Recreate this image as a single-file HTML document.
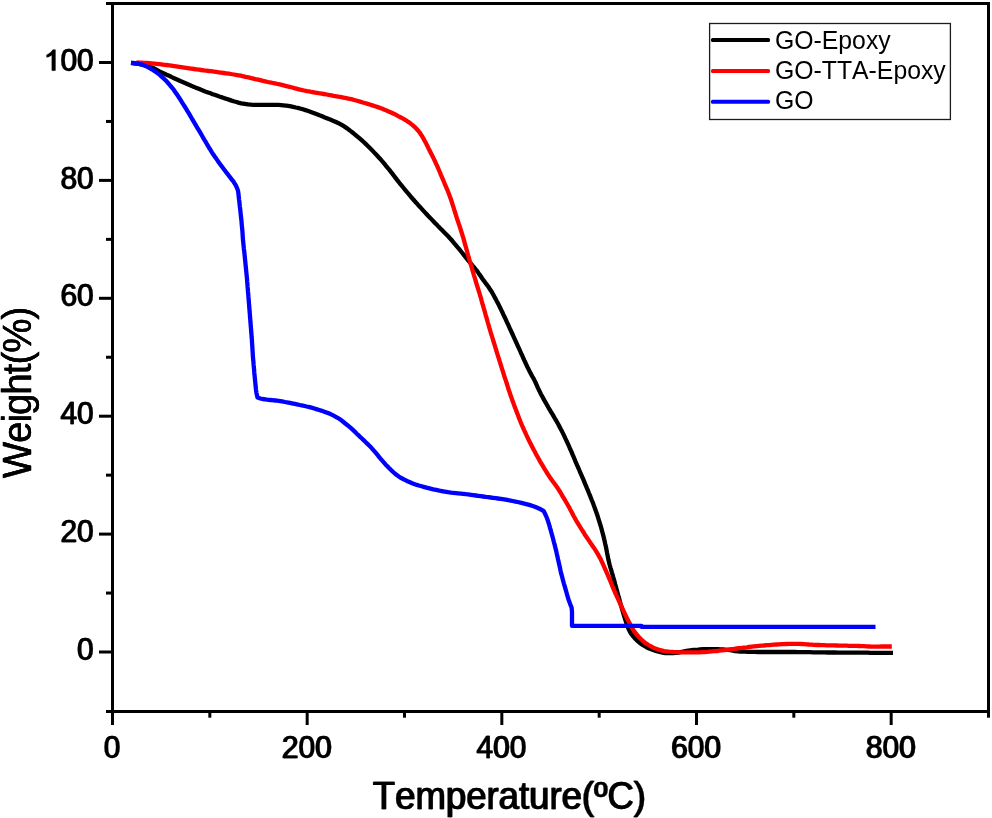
<!DOCTYPE html>
<html><head><meta charset="utf-8"><title>TGA</title>
<style>
html,body{margin:0;padding:0;background:#fff;}
body{width:992px;height:818px;overflow:hidden;}
svg{display:block;font-family:"Liberation Sans",sans-serif;}
text{fill:#000;font-kerning:none;}
</style></head>
<body>
<svg width="992" height="818" viewBox="0 0 992 818">
<defs><filter id="g" x="-10" y="-10" width="1012" height="838" filterUnits="userSpaceOnUse" color-interpolation-filters="sRGB"><feGaussianBlur stdDeviation="0.45"/></filter></defs>
<rect width="992" height="818" fill="#fff"/>
<g filter="url(#g)">
<rect x="-5" y="-5" width="1002" height="828" fill="#fff"/>
<g fill="#000">
<rect x="111" y="2" width="879" height="3"/>
<rect x="111" y="710" width="879" height="3"/>
<rect x="111" y="2" width="3" height="711"/>
<rect x="987" y="2" width="3" height="711"/>
<rect x="99" y="650.50" width="13" height="3"/>
<rect x="99" y="532.60" width="13" height="3"/>
<rect x="99" y="414.70" width="13" height="3"/>
<rect x="99" y="296.80" width="13" height="3"/>
<rect x="99" y="178.90" width="13" height="3"/>
<rect x="99" y="61.00" width="13" height="3"/>
<rect x="106" y="710.00" width="6" height="3"/>
<rect x="106" y="591.55" width="6" height="3"/>
<rect x="106" y="473.65" width="6" height="3"/>
<rect x="106" y="355.75" width="6" height="3"/>
<rect x="106" y="237.85" width="6" height="3"/>
<rect x="106" y="119.95" width="6" height="3"/>
<rect x="106" y="2.00" width="6" height="3"/>
<rect x="111.00" y="712" width="3" height="13"/>
<rect x="305.67" y="712" width="3" height="13"/>
<rect x="500.33" y="712" width="3" height="13"/>
<rect x="695.00" y="712" width="3" height="13"/>
<rect x="889.67" y="712" width="3" height="13"/>
<rect x="208.33" y="712" width="3" height="5.7"/>
<rect x="403.00" y="712" width="3" height="5.7"/>
<rect x="597.67" y="712" width="3" height="5.7"/>
<rect x="792.33" y="712" width="3" height="5.7"/>
<rect x="987.00" y="712" width="3" height="5.7"/>
</g>
<g fill="none" stroke-width="4.3" stroke-linejoin="round">
<path d="M131.0,62.9 L134.0,63.3 L136.0,63.5 L138.9,64.0 L140.9,64.3 L143.8,64.9 L145.8,65.4 L148.6,66.2 L150.5,66.9 L153.3,68.0 L155.1,68.9 L157.7,70.3 L159.5,71.3 L162.1,72.6 L163.9,73.5 L166.6,74.8 L168.5,75.6 L171.2,76.8 L173.0,77.7 L175.8,78.9 L177.6,79.7 L180.3,81.0 L182.1,81.8 L184.9,83.0 L186.7,83.8 L189.5,85.0 L191.3,85.8 L194.1,86.9 L195.9,87.7 L198.7,88.8 L200.6,89.6 L203.4,90.7 L205.2,91.4 L208.0,92.4 L209.9,93.1 L212.7,94.2 L214.6,94.8 L217.4,95.8 L219.3,96.5 L222.2,97.4 L224.1,98.1 L226.9,99.0 L228.8,99.6 L231.7,100.6 L233.6,101.2 L236.5,102.0 L238.4,102.6 L241.3,103.3 L243.3,103.6 L246.2,104.1 L248.2,104.4 L251.2,104.7 L253.2,104.8 L256.2,104.9 L258.2,104.9 L261.2,104.9 L263.2,104.9 L266.2,104.9 L268.2,104.9 L271.2,104.8 L273.2,104.8 L276.2,104.8 L278.2,104.9 L281.2,105.1 L283.1,105.3 L286.1,105.6 L288.1,105.9 L291.0,106.4 L293.0,106.8 L295.9,107.5 L297.9,107.9 L300.8,108.7 L302.7,109.2 L305.6,110.1 L307.5,110.7 L310.3,111.7 L312.2,112.4 L315.0,113.5 L316.9,114.2 L319.6,115.3 L321.5,116.0 L324.3,117.2 L326.1,117.9 L328.9,119.1 L330.8,119.8 L333.5,120.9 L335.4,121.7 L338.1,123.0 L339.9,123.9 L342.5,125.4 L344.2,126.4 L346.7,128.1 L348.3,129.2 L350.7,131.1 L352.2,132.3 L354.5,134.2 L356.1,135.5 L358.4,137.4 L359.9,138.7 L362.2,140.7 L363.7,142.0 L365.9,144.1 L367.3,145.5 L369.4,147.6 L370.8,149.0 L372.9,151.1 L374.3,152.6 L376.4,154.8 L377.7,156.2 L379.8,158.4 L381.7,160.7 L383.0,162.2 L385.0,164.5 L386.2,166.1 L388.1,168.4 L389.4,169.9 L391.3,172.3 L392.5,173.9 L394.3,176.3 L395.5,177.9 L397.3,180.2 L398.6,181.8 L400.4,184.2 L401.7,185.7 L403.6,188.0 L404.9,189.6 L406.8,191.9 L408.1,193.4 L410.0,195.7 L411.3,197.3 L413.3,199.5 L414.6,201.0 L416.6,203.2 L417.9,204.7 L420.0,206.9 L421.3,208.4 L423.3,210.6 L424.7,212.1 L426.7,214.3 L428.1,215.8 L430.2,217.9 L431.6,219.4 L433.6,221.5 L435.0,223.0 L437.1,225.1 L438.5,226.6 L440.6,228.7 L442.0,230.1 L444.1,232.2 L445.6,233.7 L447.7,235.8 L449.0,237.2 L451.1,239.5 L452.4,241.0 L454.3,243.3 L455.6,244.8 L457.5,247.1 L458.8,248.6 L460.7,251.0 L461.9,252.5 L463.8,254.9 L465.0,256.5 L466.9,258.8 L468.1,260.4 L470.1,262.7 L471.4,264.2 L473.3,266.5 L474.6,268.0 L476.5,270.3 L477.7,271.9 L479.4,274.4 L480.6,276.0 L482.2,278.5 L483.4,280.1 L485.2,282.6 L486.4,284.1 L488.2,286.5 L489.3,288.2 L491.0,290.7 L492.0,292.4 L493.5,295.0 L494.4,296.7 L495.9,299.4 L496.8,301.2 L498.2,303.8 L499.1,305.6 L500.4,308.3 L501.3,310.1 L502.6,312.8 L503.4,314.6 L504.7,317.3 L505.6,319.1 L506.8,321.9 L507.7,323.7 L508.9,326.4 L509.7,328.2 L511.0,330.9 L511.8,332.8 L513.1,335.5 L513.9,337.3 L515.1,340.0 L516.0,341.9 L517.2,344.6 L518.0,346.4 L519.3,349.2 L520.1,351.0 L521.3,353.7 L522.2,355.5 L523.4,358.3 L524.2,360.1 L525.5,362.8 L526.3,364.6 L527.6,367.4 L528.5,369.1 L529.8,371.8 L530.8,373.6 L532.2,376.2 L533.7,378.8 L534.6,380.6 L535.9,383.3 L536.7,385.1 L537.9,387.9 L538.8,389.7 L540.1,392.4 L541.0,394.2 L542.4,396.8 L543.4,398.6 L544.8,401.2 L545.8,402.9 L547.3,405.5 L548.3,407.3 L549.8,409.8 L550.8,411.6 L552.4,414.2 L553.4,415.9 L554.9,418.5 L555.9,420.2 L557.4,422.8 L558.4,424.5 L559.8,427.2 L560.7,429.0 L562.1,431.6 L563.0,433.4 L564.3,436.1 L565.1,437.9 L566.4,440.6 L567.3,442.5 L568.5,445.2 L569.3,447.0 L570.5,449.8 L571.4,451.6 L572.5,454.4 L573.3,456.2 L574.5,459.0 L575.2,460.8 L576.4,463.6 L577.2,465.4 L578.4,468.2 L579.2,470.0 L580.4,472.8 L581.2,474.6 L582.4,477.3 L583.2,479.2 L584.3,481.9 L585.1,483.8 L586.3,486.6 L587.0,488.4 L588.2,491.2 L588.9,493.0 L590.1,495.8 L590.8,497.7 L591.9,500.5 L592.7,502.3 L593.7,505.1 L594.4,507.0 L595.4,509.8 L596.1,511.7 L597.1,514.5 L597.7,516.4 L598.6,519.3 L599.2,521.2 L600.1,524.1 L600.7,526.0 L601.5,528.9 L602.0,530.8 L602.8,533.7 L603.3,535.6 L604.0,538.6 L604.5,540.5 L605.1,543.4 L605.6,545.4 L606.2,548.3 L606.6,550.3 L607.1,553.2 L607.5,555.2 L608.1,558.1 L608.5,560.1 L609.2,563.0 L609.7,565.0 L610.5,567.8 L611.1,569.7 L611.9,572.6 L612.5,574.5 L613.3,577.4 L613.9,579.3 L614.7,582.2 L615.2,584.2 L616.0,587.1 L616.5,589.0 L617.3,591.9 L617.8,593.8 L618.6,596.7 L619.2,598.6 L619.9,601.5 L620.5,603.5 L621.3,606.4 L621.8,608.3 L622.7,611.2 L623.2,613.1 L624.1,615.9 L624.7,617.9 L625.6,620.7 L626.2,622.6 L627.2,625.5 L627.9,627.3 L629.1,630.1 L630.5,632.7 L631.6,634.3 L633.4,636.7 L634.7,638.2 L636.8,640.3 L638.3,641.6 L640.6,643.5 L642.3,644.7 L644.8,646.2 L646.5,647.2 L649.2,648.5 L651.1,649.2 L653.9,650.2 L655.8,650.9 L658.7,651.7 L660.6,652.2 L663.5,652.8 L665.5,653.0 L668.5,653.2 L670.5,653.2 L673.5,653.1 L675.4,652.9 L678.4,652.5 L680.4,652.2 L683.3,651.6 L685.3,651.2 L688.2,650.6 L690.2,650.3 L693.2,650.0 L695.2,649.8 L698.1,649.6 L700.1,649.4 L703.1,649.2 L705.1,649.2 L708.1,649.1 L710.1,649.1 L713.1,649.1 L715.1,649.1 L718.1,649.2 L720.1,649.3 L723.1,649.4 L725.1,649.6 L728.1,649.9 L730.1,650.2 L733.0,650.7 L735.0,651.0 L738.0,651.3 L740.0,651.5 L743.0,651.7 L745.0,651.7 L748.0,651.8 L750.0,651.8 L753.0,651.9 L755.0,651.9 L758.0,652.0 L760.0,652.0 L763.0,652.0 L765.0,652.0 L768.0,652.0 L770.0,652.0 L773.0,652.0 L775.0,652.0 L778.0,652.0 L780.0,652.0 L783.0,652.0 L785.0,652.0 L788.0,652.0 L790.0,652.0 L793.0,652.0 L795.0,652.0 L798.0,652.1 L800.0,652.1 L803.0,652.1 L805.0,652.2 L808.0,652.2 L810.0,652.2 L813.0,652.3 L815.0,652.3 L818.0,652.3 L820.0,652.4 L823.0,652.4 L825.0,652.4 L828.0,652.5 L830.0,652.5 L833.0,652.5 L835.0,652.5 L838.0,652.6 L840.0,652.6 L843.0,652.6 L845.0,652.6 L848.0,652.6 L850.0,652.6 L853.0,652.6 L855.0,652.7 L858.0,652.7 L860.0,652.7 L863.0,652.7 L865.0,652.7 L868.0,652.7 L870.0,652.8 L873.0,652.8 L875.0,652.8 L878.0,652.8 L880.0,652.8 L883.0,652.8 L885.0,652.8 L888.0,652.9 L890.0,652.9 L893.0,652.9" stroke="#000"/>
<path d="M136.5,62.5 L139.5,62.6 L141.5,62.7 L144.5,62.9 L146.5,63.0 L149.5,63.2 L151.5,63.4 L154.5,63.7 L156.5,63.9 L159.4,64.2 L161.4,64.4 L164.4,64.8 L166.4,65.0 L169.4,65.4 L171.4,65.7 L174.3,66.1 L176.3,66.4 L179.3,66.8 L181.3,67.1 L184.2,67.6 L186.2,67.9 L189.2,68.3 L191.2,68.6 L194.1,69.0 L196.1,69.3 L199.1,69.7 L201.1,70.0 L204.1,70.4 L206.0,70.6 L209.0,71.0 L211.0,71.2 L214.0,71.6 L216.0,71.9 L218.9,72.3 L220.9,72.6 L223.9,73.0 L225.9,73.3 L228.9,73.7 L230.8,74.0 L233.8,74.5 L235.8,74.8 L238.7,75.3 L240.7,75.7 L243.6,76.3 L245.6,76.8 L248.5,77.4 L250.4,77.9 L253.4,78.6 L255.3,79.1 L258.2,79.7 L260.2,80.2 L263.1,80.9 L265.1,81.3 L268.0,82.0 L270.0,82.4 L272.9,83.0 L274.9,83.4 L277.8,84.0 L279.8,84.4 L282.7,85.1 L284.6,85.6 L287.5,86.3 L289.5,86.8 L292.4,87.5 L294.3,88.1 L297.2,88.9 L299.1,89.4 L302.1,90.1 L304.0,90.5 L307.0,91.1 L308.9,91.4 L311.9,92.0 L313.9,92.3 L316.8,92.8 L318.8,93.2 L321.7,93.7 L323.7,94.0 L326.7,94.5 L328.6,94.9 L331.6,95.4 L333.6,95.8 L336.5,96.3 L338.5,96.7 L341.4,97.2 L343.4,97.6 L346.4,98.2 L348.3,98.6 L351.2,99.2 L353.2,99.7 L356.1,100.5 L358.0,101.0 L360.9,101.9 L362.8,102.5 L365.7,103.3 L367.6,103.9 L370.5,104.8 L372.4,105.4 L375.2,106.3 L377.1,106.9 L380.0,107.9 L381.8,108.6 L384.6,109.8 L386.5,110.5 L389.2,111.7 L391.1,112.5 L393.8,113.8 L395.6,114.7 L398.2,116.1 L400.0,117.0 L402.6,118.4 L404.4,119.4 L406.9,121.0 L408.6,122.1 L411.0,123.8 L412.6,125.1 L414.8,127.1 L416.2,128.5 L418.2,130.7 L419.5,132.3 L421.1,134.7 L422.2,136.4 L423.7,139.0 L424.6,140.8 L426.1,143.4 L427.0,145.2 L428.3,147.9 L429.2,149.7 L430.6,152.4 L431.4,154.1 L432.8,156.8 L433.7,158.6 L435.0,161.3 L435.8,163.1 L437.1,165.9 L437.9,167.7 L439.1,170.5 L439.9,172.3 L441.0,175.1 L441.8,176.9 L443.0,179.7 L443.8,181.5 L444.9,184.3 L445.7,186.1 L446.9,188.9 L447.7,190.7 L448.8,193.5 L449.5,195.4 L450.5,198.2 L451.2,200.1 L452.1,203.0 L452.7,204.9 L453.6,207.7 L454.2,209.6 L455.1,212.5 L455.7,214.4 L456.6,217.3 L457.2,219.2 L458.2,222.0 L458.8,223.9 L459.8,226.8 L460.4,228.7 L461.3,231.5 L461.9,233.4 L462.8,236.3 L463.4,238.2 L464.2,241.1 L464.7,243.0 L465.5,245.9 L466.1,247.9 L466.9,250.8 L467.4,252.7 L468.2,255.6 L468.8,257.5 L469.6,260.4 L470.2,262.3 L471.0,265.2 L471.6,267.1 L472.4,270.0 L473.0,271.9 L473.8,274.8 L474.4,276.7 L475.3,279.6 L475.8,281.5 L476.7,284.4 L477.3,286.3 L478.2,289.2 L478.8,291.1 L479.7,293.9 L480.2,295.9 L481.1,298.7 L481.6,300.7 L482.4,303.6 L483.0,305.5 L483.8,308.4 L484.4,310.3 L485.2,313.2 L485.7,315.1 L486.6,318.0 L487.1,319.9 L487.9,322.8 L488.5,324.7 L489.3,327.6 L489.9,329.5 L490.7,332.4 L491.3,334.3 L492.2,337.2 L492.8,339.1 L493.7,342.0 L494.3,343.9 L495.2,346.8 L495.7,348.7 L496.6,351.5 L497.2,353.5 L498.1,356.3 L498.7,358.2 L499.6,361.1 L500.2,363.0 L501.1,365.9 L501.7,367.8 L502.6,370.6 L503.2,372.5 L504.1,375.4 L505.0,378.3 L505.7,380.2 L506.6,383.0 L507.2,384.9 L508.1,387.8 L508.7,389.7 L509.7,392.6 L510.3,394.5 L511.3,397.3 L512.0,399.2 L513.0,402.0 L513.7,403.9 L514.7,406.7 L515.4,408.6 L516.5,411.4 L517.2,413.2 L518.3,416.0 L519.0,417.9 L520.1,420.7 L520.8,422.6 L522.0,425.3 L522.8,427.2 L524.0,429.9 L524.9,431.7 L526.1,434.4 L527.0,436.3 L528.3,439.0 L529.1,440.8 L530.5,443.5 L531.4,445.2 L532.7,447.9 L533.7,449.7 L535.1,452.3 L536.0,454.1 L537.5,456.7 L538.5,458.5 L539.9,461.1 L540.9,462.8 L542.5,465.4 L543.5,467.1 L545.0,469.7 L546.1,471.4 L547.7,474.0 L548.8,475.6 L550.4,478.1 L551.6,479.8 L553.4,482.2 L554.6,483.8 L556.4,486.2 L557.5,487.8 L559.1,490.3 L560.2,492.0 L561.7,494.6 L562.7,496.4 L564.2,498.9 L565.3,500.7 L566.8,503.3 L567.8,505.0 L569.3,507.6 L570.2,509.4 L571.6,512.0 L572.5,513.8 L573.9,516.5 L574.9,518.2 L576.3,520.8 L577.4,522.5 L579.0,525.1 L580.0,526.8 L581.6,529.3 L582.7,531.0 L584.3,533.6 L585.3,535.3 L587.0,537.8 L588.1,539.4 L589.8,541.9 L590.9,543.6 L592.6,546.0 L593.8,547.7 L595.4,550.2 L596.5,551.9 L598.0,554.4 L599.0,556.2 L600.5,558.8 L601.3,560.6 L602.6,563.3 L603.4,565.2 L604.6,567.9 L605.4,569.7 L606.7,572.5 L607.5,574.3 L608.7,577.1 L609.4,578.9 L610.6,581.7 L611.3,583.5 L612.4,586.3 L613.2,588.2 L614.4,590.9 L615.2,592.8 L616.4,595.5 L617.3,597.3 L618.5,600.0 L619.3,601.9 L620.6,604.6 L621.4,606.4 L622.7,609.2 L623.5,611.0 L624.8,613.7 L625.6,615.5 L627.0,618.2 L627.9,620.0 L629.2,622.6 L630.2,624.4 L631.6,627.0 L632.6,628.8 L634.2,631.3 L635.4,632.9 L637.3,635.2 L638.6,636.7 L640.7,638.8 L642.2,640.2 L644.4,642.2 L646.0,643.4 L648.5,645.0 L650.2,646.0 L652.9,647.4 L654.7,648.2 L657.5,649.2 L659.4,649.9 L662.3,650.6 L664.2,651.1 L667.2,651.5 L669.2,651.7 L672.2,651.9 L674.2,652.1 L677.2,652.2 L679.2,652.3 L682.2,652.4 L684.2,652.4 L687.2,652.4 L689.2,652.4 L692.2,652.4 L694.2,652.4 L697.2,652.4 L699.2,652.3 L702.2,652.2 L704.2,652.1 L707.2,651.9 L709.1,651.7 L712.1,651.4 L714.1,651.2 L717.1,651.0 L719.1,650.7 L722.1,650.4 L724.1,650.2 L727.1,649.8 L729.0,649.5 L732.0,649.1 L734.0,648.9 L737.0,648.5 L739.0,648.2 L741.9,647.9 L743.9,647.6 L746.9,647.3 L748.9,647.0 L751.9,646.6 L753.9,646.4 L756.9,646.1 L758.8,645.9 L761.8,645.6 L763.8,645.5 L766.8,645.2 L768.8,645.1 L771.8,644.8 L773.8,644.7 L776.8,644.5 L778.8,644.4 L781.8,644.2 L783.8,644.1 L786.8,644.0 L788.8,643.9 L791.8,643.8 L793.8,643.8 L796.8,643.8 L798.8,643.8 L801.8,644.0 L803.8,644.1 L806.8,644.3 L808.8,644.5 L811.8,644.7 L813.8,644.8 L816.8,645.0 L818.8,645.0 L821.8,645.1 L823.8,645.2 L826.8,645.3 L828.8,645.3 L831.8,645.4 L833.8,645.4 L836.8,645.5 L838.8,645.6 L841.8,645.6 L843.8,645.7 L846.8,645.7 L848.8,645.8 L851.8,645.8 L853.8,645.9 L856.8,645.9 L858.8,646.0 L861.8,646.1 L863.8,646.2 L866.8,646.4 L868.8,646.5 L871.8,646.6 L873.8,646.6 L876.8,646.6 L878.8,646.6 L881.8,646.5 L883.8,646.5 L886.8,646.5 L888.8,646.5 L891.8,646.5" stroke="#f00"/>
<path d="M131.0,62.9 L133.0,63.0 L136.0,63.3 L138.0,63.6 L140.9,64.3 L142.8,64.9 L145.6,66.0 L147.4,66.9 L150.1,68.3 L151.8,69.3 L154.3,70.9 L156.0,72.1 L158.4,73.9 L160.0,75.1 L162.2,77.1 L163.7,78.5 L165.8,80.6 L167.2,82.0 L169.2,84.3 L170.5,85.8 L172.4,88.2 L173.7,89.7 L175.4,92.2 L176.5,93.8 L178.2,96.3 L179.3,98.0 L181.0,100.6 L182.0,102.3 L183.6,104.8 L184.7,106.5 L186.3,109.1 L187.3,110.8 L188.9,113.4 L189.9,115.1 L191.4,117.7 L192.4,119.5 L194.0,122.1 L195.0,123.8 L196.5,126.4 L197.5,128.1 L199.1,130.7 L200.1,132.4 L201.6,135.0 L202.6,136.8 L204.1,139.4 L205.2,141.1 L206.7,143.7 L207.7,145.4 L209.2,148.0 L210.3,149.7 L211.9,152.3 L213.0,154.0 L214.7,156.5 L215.9,158.1 L217.6,160.6 L218.7,162.2 L220.5,164.7 L221.7,166.3 L223.5,168.7 L224.7,170.3 L226.5,172.7 L227.8,174.3 L229.6,176.7 L230.9,178.3 L232.7,180.6 L233.9,182.3 L235.5,184.8 L236.4,186.6 L237.5,189.3 L238.1,191.2 L238.5,194.2 L238.7,196.2 L239.0,199.2 L239.3,201.2 L239.6,204.2 L239.8,206.2 L240.2,209.2 L240.4,211.1 L240.7,214.1 L240.9,216.1 L241.3,219.1 L241.5,221.1 L241.7,224.1 L241.9,226.1 L242.2,229.1 L242.4,231.1 L242.6,234.1 L242.7,236.1 L242.9,239.1 L243.1,241.1 L243.4,244.0 L243.7,247.0 L243.9,249.0 L244.3,252.0 L244.5,254.0 L244.8,257.0 L245.0,259.0 L245.3,262.0 L245.5,264.0 L245.8,266.9 L246.0,268.9 L246.3,271.9 L246.5,273.9 L246.8,276.9 L247.0,278.9 L247.2,281.9 L247.4,283.9 L247.6,286.9 L247.8,288.9 L248.0,291.9 L248.3,294.9 L248.4,296.9 L248.7,299.9 L248.8,301.8 L249.1,304.8 L249.2,306.8 L249.5,309.8 L249.6,311.8 L249.9,314.8 L250.0,316.8 L250.3,319.8 L250.4,321.8 L250.7,324.8 L250.8,326.8 L251.1,329.8 L251.2,331.8 L251.5,334.8 L251.6,336.8 L251.9,339.8 L252.0,341.8 L252.2,344.8 L252.4,347.8 L252.5,349.8 L252.7,352.8 L252.8,354.8 L253.0,357.8 L253.2,359.8 L253.5,362.7 L253.6,364.7 L253.9,367.7 L254.1,369.7 L254.3,372.7 L254.5,374.7 L254.8,377.7 L255.0,379.7 L255.3,382.7 L255.5,384.7 L255.8,387.7 L256.0,389.7 L256.4,392.6 L256.8,394.6 L257.5,397.5 L260.3,398.5 L262.3,399.0 L265.2,399.4 L267.2,399.7 L270.2,400.0 L272.2,400.2 L275.2,400.5 L277.2,400.7 L280.1,401.1 L282.1,401.4 L285.1,402.0 L287.0,402.3 L290.0,402.9 L291.9,403.3 L294.9,403.9 L296.9,404.3 L299.8,405.0 L301.7,405.4 L304.7,406.0 L306.6,406.5 L309.6,407.2 L311.5,407.7 L314.4,408.5 L316.3,409.1 L319.2,410.0 L321.1,410.6 L323.9,411.6 L325.8,412.2 L328.6,413.3 L330.5,414.1 L333.2,415.4 L334.9,416.3 L337.6,417.8 L339.2,418.8 L341.7,420.6 L343.2,421.8 L345.6,423.7 L347.2,425.0 L349.5,426.9 L351.0,428.2 L353.2,430.2 L354.7,431.6 L356.8,433.7 L358.3,435.1 L360.4,437.2 L361.9,438.5 L364.1,440.6 L365.5,442.0 L367.7,444.1 L369.1,445.5 L371.2,447.6 L372.5,449.1 L374.5,451.4 L375.8,452.9 L377.7,455.2 L379.0,456.8 L380.9,459.1 L382.2,460.6 L384.2,462.9 L385.5,464.4 L387.6,466.5 L389.0,468.0 L391.1,470.1 L392.6,471.5 L394.8,473.5 L396.4,474.7 L398.8,476.5 L400.5,477.6 L403.1,479.0 L404.9,479.9 L407.6,481.2 L409.4,482.0 L412.2,483.2 L414.1,483.9 L416.9,484.9 L418.8,485.5 L421.7,486.3 L423.6,486.8 L426.5,487.6 L428.5,488.1 L431.4,488.8 L433.3,489.3 L436.3,489.9 L438.2,490.3 L441.2,491.0 L443.2,491.3 L446.1,491.8 L448.1,492.2 L451.1,492.6 L453.1,492.8 L456.0,493.1 L458.0,493.3 L461.0,493.6 L463.0,493.8 L466.0,494.2 L468.0,494.4 L471.0,494.8 L473.0,495.1 L475.9,495.5 L477.9,495.8 L480.9,496.2 L482.9,496.5 L485.9,496.9 L487.9,497.1 L490.8,497.5 L492.8,497.8 L495.8,498.2 L497.8,498.5 L500.8,498.9 L502.7,499.2 L505.7,499.7 L507.7,500.0 L510.6,500.6 L512.6,501.0 L515.5,501.6 L517.5,502.0 L520.4,502.6 L522.4,503.1 L525.3,503.8 L527.2,504.3 L530.1,505.1 L532.0,505.7 L534.9,506.7 L536.7,507.5 L539.5,508.7 L541.2,509.7 L543.8,511.2 L544.7,513.0 L546.0,515.8 L547.1,518.5 L547.8,520.4 L548.4,522.3 L549.3,525.2 L550.1,528.1 L550.7,530.0 L551.2,532.0 L552.0,534.9 L552.8,537.8 L553.3,539.7 L553.8,541.7 L554.6,544.6 L555.3,547.5 L555.8,549.4 L556.3,551.4 L556.9,554.3 L557.6,557.3 L558.0,559.2 L558.5,561.2 L559.1,564.1 L559.8,567.1 L560.2,569.0 L560.6,571.0 L561.3,573.9 L562.1,576.8 L562.6,578.8 L563.1,580.7 L563.9,583.6 L564.8,586.5 L565.3,588.5 L565.9,590.4 L566.7,593.3 L567.5,596.2 L568.1,598.1 L568.7,600.0 L569.7,602.8 L570.8,605.6 L571.6,607.5 L572.0,612.0 L572.0,625.9 L641.5,625.9 L641.5,626.9 L875.5,626.9" stroke="#00f"/>
</g>

<rect x="709.6" y="23.5" width="240.8" height="96.0" fill="#fff" stroke="#1c1c1c" stroke-width="1.3"/>
<rect x="711" y="38" width="59" height="4" rx="1.5" fill="#000"/>
<rect x="711" y="68.9" width="59" height="4" rx="1.5" fill="#f00"/>
<rect x="711" y="99.7" width="59" height="4" rx="1.5" fill="#00f"/>
<g font-size="24.8">
<text transform="translate(775.0,48.8) scale(1,1.03)">GO-Epoxy</text>
<text transform="translate(775.0,79.0) scale(1,1.03)">GO-TTA-Epoxy</text>
<text transform="translate(775.0,109.2) scale(1,1.03)">GO</text>
</g>
<g>
<text transform="translate(93.15,660.10) scale(1,1.06)" font-size="29.9" text-anchor="end" stroke="#000" stroke-width="0.25">0</text>
<text transform="translate(94.25,660.10) scale(1,1.06)" font-size="29.9" text-anchor="end" stroke="#000" stroke-width="0.25">0</text>
<text transform="translate(93.15,542.20) scale(1,1.06)" font-size="29.9" text-anchor="end" stroke="#000" stroke-width="0.25">20</text>
<text transform="translate(94.25,542.20) scale(1,1.06)" font-size="29.9" text-anchor="end" stroke="#000" stroke-width="0.25">20</text>
<text transform="translate(93.15,424.30) scale(1,1.06)" font-size="29.9" text-anchor="end" stroke="#000" stroke-width="0.25">40</text>
<text transform="translate(94.25,424.30) scale(1,1.06)" font-size="29.9" text-anchor="end" stroke="#000" stroke-width="0.25">40</text>
<text transform="translate(93.15,306.40) scale(1,1.06)" font-size="29.9" text-anchor="end" stroke="#000" stroke-width="0.25">60</text>
<text transform="translate(94.25,306.40) scale(1,1.06)" font-size="29.9" text-anchor="end" stroke="#000" stroke-width="0.25">60</text>
<text transform="translate(93.15,188.50) scale(1,1.06)" font-size="29.9" text-anchor="end" stroke="#000" stroke-width="0.25">80</text>
<text transform="translate(94.25,188.50) scale(1,1.06)" font-size="29.9" text-anchor="end" stroke="#000" stroke-width="0.25">80</text>
<text transform="translate(93.15,70.60) scale(1,1.06)" font-size="29.9" text-anchor="end" stroke="#000" stroke-width="0.25">00</text>
<text transform="translate(94.25,70.60) scale(1,1.06)" font-size="29.9" text-anchor="end" stroke="#000" stroke-width="0.25">00</text>
<path transform="translate(43.26,70.60) scale(0.01460,-0.01423)" d="M763 0H583V1147Q518 1085 412.5 1023T223 930V1104Q374 1175 487 1276T647 1472H763Z" fill="#000" stroke="#000" stroke-width="17.1"/>
<path transform="translate(44.36,70.60) scale(0.01460,-0.01423)" d="M763 0H583V1147Q518 1085 412.5 1023T223 930V1104Q374 1175 487 1276T647 1472H763Z" fill="#000" stroke="#000" stroke-width="17.1"/>
<text transform="translate(111.55,757.60) scale(1,1.06)" font-size="29.9" text-anchor="middle" stroke="#000" stroke-width="0.25">0</text>
<text transform="translate(112.65,757.60) scale(1,1.06)" font-size="29.9" text-anchor="middle" stroke="#000" stroke-width="0.25">0</text>
<text transform="translate(306.22,757.60) scale(1,1.06)" font-size="29.9" text-anchor="middle" stroke="#000" stroke-width="0.25">200</text>
<text transform="translate(307.32,757.60) scale(1,1.06)" font-size="29.9" text-anchor="middle" stroke="#000" stroke-width="0.25">200</text>
<text transform="translate(500.88,757.60) scale(1,1.06)" font-size="29.9" text-anchor="middle" stroke="#000" stroke-width="0.25">400</text>
<text transform="translate(501.98,757.60) scale(1,1.06)" font-size="29.9" text-anchor="middle" stroke="#000" stroke-width="0.25">400</text>
<text transform="translate(695.55,757.60) scale(1,1.06)" font-size="29.9" text-anchor="middle" stroke="#000" stroke-width="0.25">600</text>
<text transform="translate(696.65,757.60) scale(1,1.06)" font-size="29.9" text-anchor="middle" stroke="#000" stroke-width="0.25">600</text>
<text transform="translate(890.22,757.60) scale(1,1.06)" font-size="29.9" text-anchor="middle" stroke="#000" stroke-width="0.25">800</text>
<text transform="translate(891.32,757.60) scale(1,1.06)" font-size="29.9" text-anchor="middle" stroke="#000" stroke-width="0.25">800</text>
<text transform="translate(508.85,809.30) scale(1,1.04)" font-size="36.55" text-anchor="middle" stroke="#000" stroke-width="0.3">Temperature(&#186;C)</text>
<text transform="translate(509.95,809.30) scale(1,1.04)" font-size="36.55" text-anchor="middle" stroke="#000" stroke-width="0.3">Temperature(&#186;C)</text>
<text transform="translate(30.50,393.0) rotate(-90) scale(1,1.04)" x="0" y="0" font-size="38.5" text-anchor="middle" letter-spacing="-1.0" stroke="#000" stroke-width="0.3">Weight(%)</text>
<text transform="translate(31.10,393.0) rotate(-90) scale(1,1.04)" x="0" y="0" font-size="38.5" text-anchor="middle" letter-spacing="-1.0" stroke="#000" stroke-width="0.3">Weight(%)</text>
</g>
</g>
</svg>
</body></html>
